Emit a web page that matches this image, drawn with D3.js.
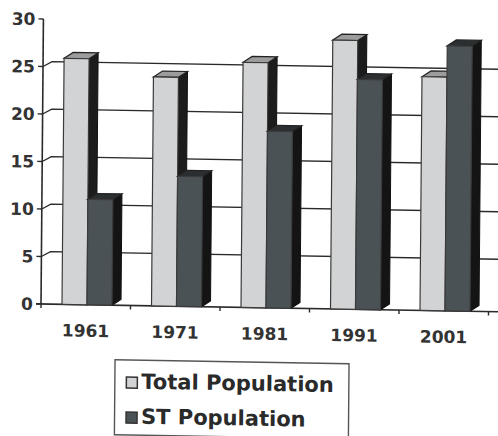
<!DOCTYPE html>
<html>
<head>
<meta charset="utf-8">
<script src="https://cdn.jsdelivr.net/npm/d3@7"></script>
<style>
  html, body { margin: 0; padding: 0; background: #fff; }
  svg { display: block; }
</style>
</head>
<body>
<svg id="chart" width="498" height="436"></svg>
<script>
// Decadal census years and the two population series (per cent)
const years = ["1961", "1971", "1981", "1991", "2001"];
const seriesNames = ["Total Population", "ST Population"];
const totalPopulation = [25.9, 24.1, 25.8, 28.3, 24.6];
const stPopulation = [11.1, 13.7, 18.6, 24.2, 27.9];
const yTicks = [0, 5, 10, 15, 20, 25, 30];

const W = 498, H = 436;
const x0 = 41, yBase = 304, yTop = 19;
const band = 89.5;
const depthX = 9, depthY = -6;      // 3-D bar depth
const wallX = 9, wallY = -5;        // back-wall offset of gridlines

const colors = {
  "Total Population": { front: "#d2d3d4", side: "#1c1c1c", top: "#9c9c9c" },
  "ST Population":    { front: "#4a5256", side: "#141414", top: "#2b2f31" }
};

const values = {
  "Total Population": totalPopulation,
  "ST Population": stPopulation
};

const svg = d3.select("#chart");

// slight skew of the whole drawing
const s = 0.017, k = 0.0085;
const g = svg.append("g")
  .attr("transform", `matrix(1,${s},${-k},1,${k * yBase},${-s * x0})`);

const x = d3.scaleBand().domain(years).range([x0, x0 + band * years.length]).padding(0);
const xs = d3.scaleBand().domain(seriesNames).range([21, 71]).padding(0);
const y = d3.scaleLinear().domain([0, 30]).range([yBase, yTop]);

const ink = "#2a2a2a";
const fontFam = "'DejaVu Sans', Verdana, sans-serif";

// gridlines on the back wall
yTicks.filter(v => v > 0 && v < 30).forEach(v => {
  g.append("path")
    .attr("d", `M${x0},${y(v)} L${x0 + wallX},${y(v) + wallY} L${W + 6},${y(v) + wallY}`)
    .attr("fill", "none")
    .attr("stroke", ink)
    .attr("stroke-width", 1.4);
});

// value axis
g.append("line")
  .attr("x1", x0).attr("x2", x0)
  .attr("y1", y(30)).attr("y2", y(0))
  .attr("stroke", ink).attr("stroke-width", 1.6);

yTicks.forEach(v => {
  g.append("line")
    .attr("x1", x0 - 5).attr("x2", x0)
    .attr("y1", y(v)).attr("y2", y(v))
    .attr("stroke", ink).attr("stroke-width", 1.4);
  g.append("text")
    .attr("x", 33).attr("y", y(v) + 6.2)
    .attr("text-anchor", "end")
    .attr("font-family", fontFam)
    .attr("font-weight", "bold")
    .attr("font-size", 17)
    .attr("fill", "#333")
    .text(v);
});

// floor line and category ticks
g.append("line")
  .attr("x1", x0 - 5).attr("x2", W + 6)
  .attr("y1", y(0)).attr("y2", y(0))
  .attr("stroke", ink).attr("stroke-width", 1.6);

d3.range(years.length + 1).forEach(i => {
  const xx = x0 + i * x.bandwidth();
  g.append("line")
    .attr("x1", xx).attr("x2", xx)
    .attr("y1", y(0)).attr("y2", y(0) + 4)
    .attr("stroke", ink).attr("stroke-width", 1.4);
});

// 3-D columns
years.forEach((yr, i) => {
  seriesNames.forEach(name => {
    const v = values[name][i];
    const bx = x(yr) + xs(name);
    const bw = xs.bandwidth();
    const yt = y(v), yb = y(0);
    const c = colors[name];
    const bar = g.append("g");
    bar.append("polygon")
      .attr("points", [[bx + bw, yt], [bx + bw + depthX, yt + depthY], [bx + bw + depthX, yb + depthY], [bx + bw, yb]].join(" "))
      .attr("fill", c.side).attr("stroke", "#111").attr("stroke-width", 1);
    bar.append("polygon")
      .attr("points", [[bx, yt], [bx + depthX, yt + depthY], [bx + bw + depthX, yt + depthY], [bx + bw, yt]].join(" "))
      .attr("fill", c.top).attr("stroke", "#222").attr("stroke-width", 1.2);
    bar.append("rect")
      .attr("x", bx).attr("y", yt)
      .attr("width", bw).attr("height", yb - yt)
      .attr("fill", c.front).attr("stroke", "#3a3a3a").attr("stroke-width", 1.2);
  });
});

// category labels
years.forEach(yr => {
  g.append("text")
    .attr("x", x(yr) + x.bandwidth() / 2)
    .attr("y", 336)
    .attr("text-anchor", "middle")
    .attr("font-family", fontFam)
    .attr("font-weight", "bold")
    .attr("font-size", 17)
    .attr("fill", "#333")
    .text(yr);
});

// legend
const legend = g.append("g");
legend.append("rect")
  .attr("x", 115.5).attr("y", 358.5)
  .attr("width", 234).attr("height", 75)
  .attr("fill", "#fff").attr("stroke", "#555").attr("stroke-width", 1.4);

seriesNames.forEach((name, i) => {
  const sy = i === 0 ? 375.5 : 410.5;
  legend.append("rect")
    .attr("x", 127).attr("y", sy)
    .attr("width", 11).attr("height", 11)
    .attr("fill", colors[name].front)
    .attr("stroke", "#333").attr("stroke-width", 1.5);
  legend.append("text")
    .attr("x", 142).attr("y", sy + 11.5)
    .attr("font-family", fontFam)
    .attr("font-weight", "bold")
    .attr("font-size", 21)
    .attr("fill", "#2a2a2a")
    .text(name);
});
</script>
</body>
</html>
